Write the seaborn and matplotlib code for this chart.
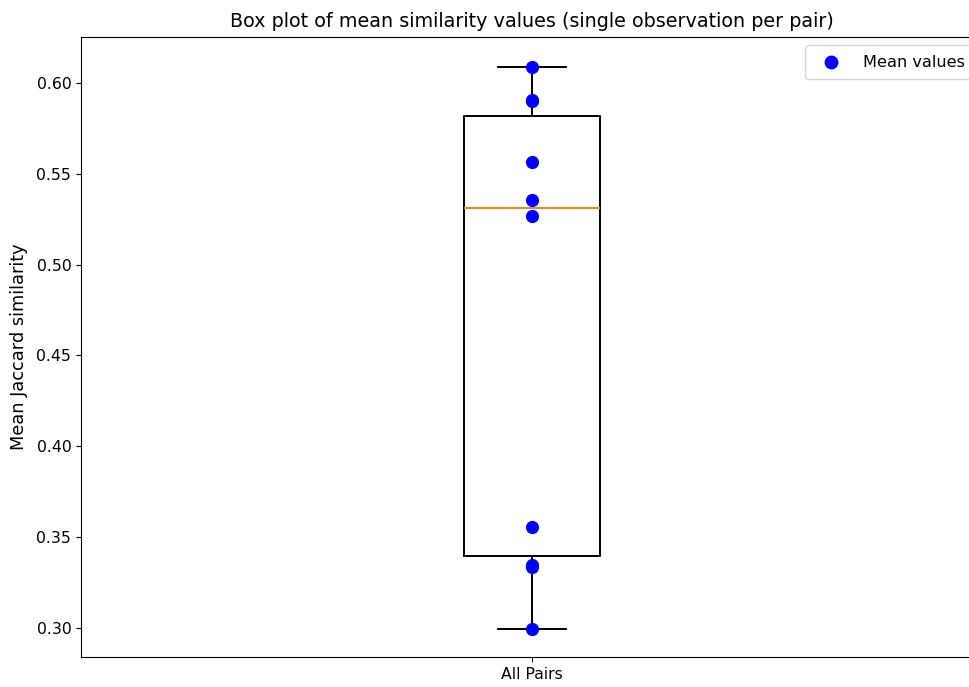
import matplotlib
matplotlib.use("Agg")
import matplotlib.pyplot as plt
import seaborn as sns
import pandas as pd

category = "All Pairs"
mean_values = [0.6088, 0.5905, 0.5900, 0.5565, 0.5356, 0.5270, 0.3558, 0.3344, 0.3338, 0.2993]
title = "Box plot of mean similarity values (single observation per pair)"
y_label = "Mean Jaccard similarity"
legend_label = "Mean values"

df = pd.DataFrame({"group": [category] * len(mean_values), "value": mean_values})

fig = plt.figure(figsize=(9.69, 6.87), dpi=100)
ax = fig.add_axes([81 / 969, 1 - 657 / 687, 902 / 969, 620 / 687])

sns.boxplot(data=df, x="group", y="value", ax=ax, width=0.15, fill=False,
            color="black", linewidth=1.4, whis=1.5,
            medianprops=dict(color="#ff7f0e", linewidth=1.4))
sns.stripplot(data=df, x="group", y="value", ax=ax, jitter=False,
              color="blue", size=9.5, label=legend_label, zorder=5)

ax.set_xlim(-0.5, 0.5)
ax.set_ylim(0.2840, 0.6253)
ax.set_xlabel("")
ax.set_ylabel(y_label, fontsize=12.8, labelpad=6)
ax.set_title(title, fontsize=13.8, pad=7)
ax.tick_params(labelsize=11.3)
for s in ax.spines.values():
    s.set_visible(True)
    s.set_color("black")

handles, labels = ax.get_legend_handles_labels()
ax.legend(handles[:1], labels[:1], loc="upper right", fontsize=11.6,
          borderpad=0.6, handletextpad=1.0, markerscale=1.05)

fig.savefig("out.png", dpi=100)
